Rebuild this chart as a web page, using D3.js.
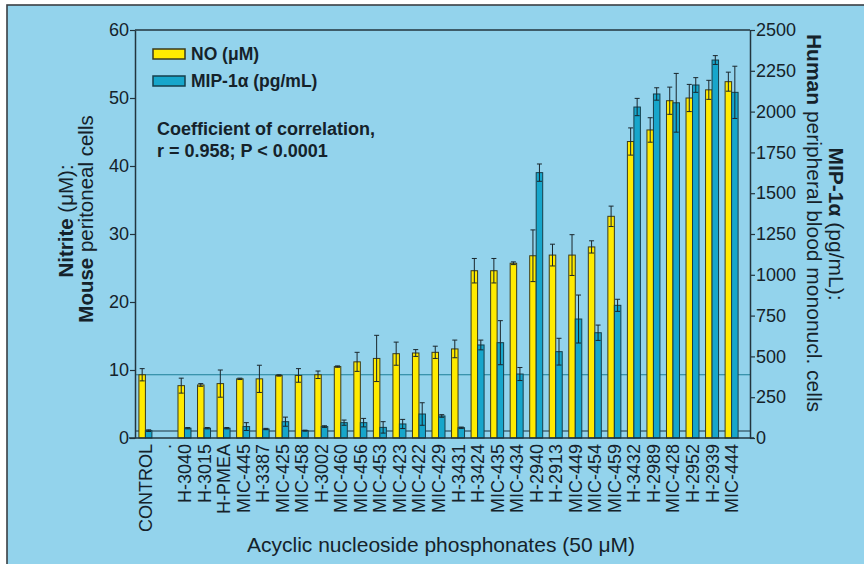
<!DOCTYPE html>
<html>
<head>
<meta charset="utf-8">
<script src="https://cdnjs.cloudflare.com/ajax/libs/d3/7.8.5/d3.min.js"></script>
<style>
  body { margin: 0; background: #ffffff; }
  text { font-family: "Liberation Sans", Arial, sans-serif; fill: #15222a; }
</style>
</head>
<body>
<div id="chart"></div>
<script>
// categories along the x axis (slot 1 is an empty spacer marked with a dot)
const categories = ['CONTROL', '.', 'H-3040', 'H-3015', 'H-PMEA', 'MIC-445', 'H-3387', 'MIC-425',
  'MIC-458', 'H-3002', 'MIC-460', 'MIC-456', 'MIC-453', 'MIC-423', 'MIC-422', 'MIC-429',
  'H-3431', 'H-3424', 'MIC-435', 'MIC-434', 'H-2940', 'H-2913', 'MIC-449', 'MIC-454',
  'MIC-459', 'H-3432', 'H-2989', 'MIC-428', 'H-2952', 'H-2939', 'MIC-444'];

// NO (uM), left axis
const noValues = [9.3, null, 7.7, 7.8, 8.0, 8.7, 8.7, 9.2, 9.2, 9.3, 10.5, 11.2, 11.7, 12.4, 12.5, 12.6,
  13.1, 24.6, 24.6, 25.7, 26.8, 26.9, 26.9, 28.1, 32.6, 43.6, 45.3, 49.6, 50.0, 51.2, 52.4];
const noErrors = [0.9, null, 1.1, 0.2, 2.0, 0.1, 2.0, 0.1, 1.0, 0.55, 0.1, 1.4, 3.4, 1.7, 0.5, 0.9,
  1.3, 1.8, 1.8, 0.2, 3.8, 1.6, 3.0, 0.9, 1.5, 2.0, 1.8, 2.0, 2.0, 1.4, 1.4];

// MIP-1alpha (pg/mL), right axis
const mipValues = [45, null, 60, 60, 60, 70, 55, 100, 45, 70, 94, 94, 65, 86, 147, 135,
  63, 570, 584, 392, 1626, 529, 729, 645, 813, 2028, 2108, 2054, 2163, 2316, 2118];
const mipErrors = [5, null, 4, 4, 4, 24, 4, 28, 3, 5, 16, 26, 35, 28, 69, 8,
  4, 30, 135, 40, 53, 82, 147, 47, 37, 53, 38, 180, 45, 27, 160];

const noTicks = [0, 10, 20, 30, 40, 50, 60];
const mipTicks = [0, 250, 500, 750, 1000, 1250, 1500, 1750, 2000, 2250, 2500];

// control reference levels drawn as horizontal lines
const controlNO = 9.3;
const controlMIP = 43;

const width = 864;
const height = 564;
const margin = {top: 30, right: 114, bottom: 126, left: 135};
const plotRight = width - margin.right;
const plotBottom = height - margin.bottom;

const svg = d3.select('#chart').append('svg')
  .attr('width', width)
  .attr('height', height);

// panel background with dark frame (right and bottom edges run off the page)
svg.append('rect')
  .attr('x', 7)
  .attr('y', 5)
  .attr('width', width + 40)
  .attr('height', height + 40)
  .attr('fill', '#93d3ec')
  .attr('stroke', '#3a3f44')
  .attr('stroke-width', 1.6);

const x0 = d3.scaleBand()
  .domain(categories)
  .range([margin.left, 742])
  .paddingInner(0.335)
  .paddingOuter(0.2);

const x1 = d3.scaleBand()
  .domain(['NO', 'MIP'])
  .range([0, x0.bandwidth()]);

const yNO = d3.scaleLinear().domain([0, 60]).range([plotBottom, margin.top]);
const yMIP = d3.scaleLinear().domain([0, 2500]).range([plotBottom, margin.top]);

// reference lines
svg.append('line')
  .attr('x1', margin.left).attr('x2', plotRight)
  .attr('y1', yNO(controlNO)).attr('y2', yNO(controlNO))
  .attr('stroke', '#1d7f98').attr('stroke-width', 1.2);
svg.append('line')
  .attr('x1', margin.left).attr('x2', plotRight)
  .attr('y1', yMIP(controlMIP)).attr('y2', yMIP(controlMIP))
  .attr('stroke', '#1c3440').attr('stroke-width', 1.2);

// bars
const rows = categories.map((c, i) => ({
  cat: c,
  no: noValues[i], noErr: noErrors[i],
  mip: mipValues[i], mipErr: mipErrors[i]
})).filter(d => d.no !== null);

const groups = svg.append('g').selectAll('g')
  .data(rows)
  .enter().append('g')
    .attr('transform', d => 'translate(' + x0(d.cat) + ',0)');

groups.append('rect')
  .attr('x', x1('NO'))
  .attr('y', d => yNO(d.no))
  .attr('width', x1.bandwidth())
  .attr('height', d => plotBottom - yNO(d.no))
  .attr('fill', '#ffeb00')
  .attr('stroke', '#3b3a1c')
  .attr('stroke-width', 1);

groups.append('rect')
  .attr('x', x1('MIP'))
  .attr('y', d => yMIP(d.mip))
  .attr('width', x1.bandwidth())
  .attr('height', d => plotBottom - yMIP(d.mip))
  .attr('fill', '#17a6cb')
  .attr('stroke', '#163f4c')
  .attr('stroke-width', 1);

// error bars
function errorBar (sel, key, valKey, errKey, scale) {
  const cx = x1(key) + x1.bandwidth() / 2;
  const cap = 2.5;
  const eb = sel.append('g')
    .attr('stroke', '#1a262c')
    .attr('stroke-width', 1);
  eb.append('line')
    .attr('x1', cx).attr('x2', cx)
    .attr('y1', d => scale(d[valKey] - d[errKey]))
    .attr('y2', d => scale(d[valKey] + d[errKey]));
  eb.append('line')
    .attr('x1', cx - cap).attr('x2', cx + cap)
    .attr('y1', d => scale(d[valKey] + d[errKey]))
    .attr('y2', d => scale(d[valKey] + d[errKey]));
  eb.append('line')
    .attr('x1', cx - cap).attr('x2', cx + cap)
    .attr('y1', d => scale(d[valKey] - d[errKey]))
    .attr('y2', d => scale(d[valKey] - d[errKey]));
}
errorBar(groups, 'NO', 'no', 'noErr', yNO);
errorBar(groups, 'MIP', 'mip', 'mipErr', yMIP);

// frame lines: top border and x axis baseline
svg.append('line')
  .attr('x1', margin.left).attr('x2', plotRight)
  .attr('y1', margin.top).attr('y2', margin.top)
  .attr('stroke', '#22343e').attr('stroke-width', 1.5);
svg.append('line')
  .attr('x1', margin.left - 6).attr('x2', plotRight + 4)
  .attr('y1', plotBottom).attr('y2', plotBottom)
  .attr('stroke', '#22343e').attr('stroke-width', 1.5);

// axes
const leftAxis = svg.append('g')
  .attr('transform', 'translate(' + margin.left + ',0)')
  .call(d3.axisLeft(yNO).tickValues(noTicks).tickSize(5).tickPadding(1).tickSizeOuter(0));
const rightAxis = svg.append('g')
  .attr('transform', 'translate(' + plotRight + ',0)')
  .call(d3.axisRight(yMIP).tickValues(mipTicks).tickFormat(d3.format('d'))
    .tickSize(5).tickPadding(1).tickSizeOuter(0));

[leftAxis, rightAxis].forEach(a => {
  a.select('.domain').attr('stroke', '#22343e').attr('stroke-width', 1.5);
  a.selectAll('.tick line').attr('stroke', '#22343e').attr('stroke-width', 1.2);
  a.selectAll('.tick text')
    .style('font-size', '18px')
    .attr('fill', '#15222a');
});

// category labels
svg.append('g').selectAll('text')
  .data(categories)
  .enter().append('text')
    .attr('transform', d => 'translate(' + (x0(d) + x0.bandwidth() / 2) + ',' + (plotBottom + 6) + ') rotate(-90)')
    .attr('dy', '0.36em')
    .attr('text-anchor', 'end')
    .style('font-size', '18px')
    .text(d => d);

// x axis title
svg.append('text')
  .attr('x', 441)
  .attr('y', 552)
  .attr('text-anchor', 'middle')
  .style('font-size', '21px')
  .text('Acyclic nucleoside phosphonates (50 μM)');

// left axis title
const lt1 = svg.append('text')
  .attr('transform', 'translate(73,221) rotate(-90)')
  .attr('text-anchor', 'middle')
  .style('font-size', '20.5px');
lt1.append('tspan').style('font-weight', 'bold').text('Nitrite');
lt1.append('tspan').text(' (μM):');

const lt2 = svg.append('text')
  .attr('transform', 'translate(93,219) rotate(-90)')
  .attr('text-anchor', 'middle')
  .style('font-size', '20.5px');
lt2.append('tspan').style('font-weight', 'bold').text('Mouse');
lt2.append('tspan').text(' peritoneal cells');

// right axis title
const rt1 = svg.append('text')
  .attr('transform', 'translate(829,224) rotate(90)')
  .attr('text-anchor', 'middle')
  .style('font-size', '21px');
rt1.append('tspan').style('font-weight', 'bold').text('MIP-1α');
rt1.append('tspan').text(' (pg/mL):');

const rt2 = svg.append('text')
  .attr('transform', 'translate(807,223) rotate(90)')
  .attr('text-anchor', 'middle')
  .style('font-size', '21px');
rt2.append('tspan').style('font-weight', 'bold').text('Human');
rt2.append('tspan').text(' peripheral blood mononucl. cells');

// legend
const legendItems = [
  {label: 'NO (μM)', fill: '#ffeb00', stroke: '#3b3a1c'},
  {label: 'MIP-1α (pg/mL)', fill: '#17a6cb', stroke: '#163f4c'}
];
const legend = svg.append('g').selectAll('g')
  .data(legendItems)
  .enter().append('g')
    .attr('transform', (d, i) => 'translate(153,' + (49 + i * 27) + ')');
legend.append('rect')
  .attr('width', 32)
  .attr('height', 10)
  .attr('fill', d => d.fill)
  .attr('stroke', d => d.stroke)
  .attr('stroke-width', 1.5);
legend.append('text')
  .attr('x', 38)
  .attr('y', 11)
  .style('font-size', '17.5px')
  .style('font-weight', 'bold')
  .text(d => d.label);

// correlation note
const note = svg.append('text')
  .attr('x', 157)
  .style('font-size', '18px')
  .style('font-weight', 'bold');
note.append('tspan').attr('x', 157).attr('y', 135).text('Coefficient of correlation,');
note.append('tspan').attr('x', 157).attr('y', 157).text('r = 0.958; P < 0.0001');
</script>
</body>
</html>
